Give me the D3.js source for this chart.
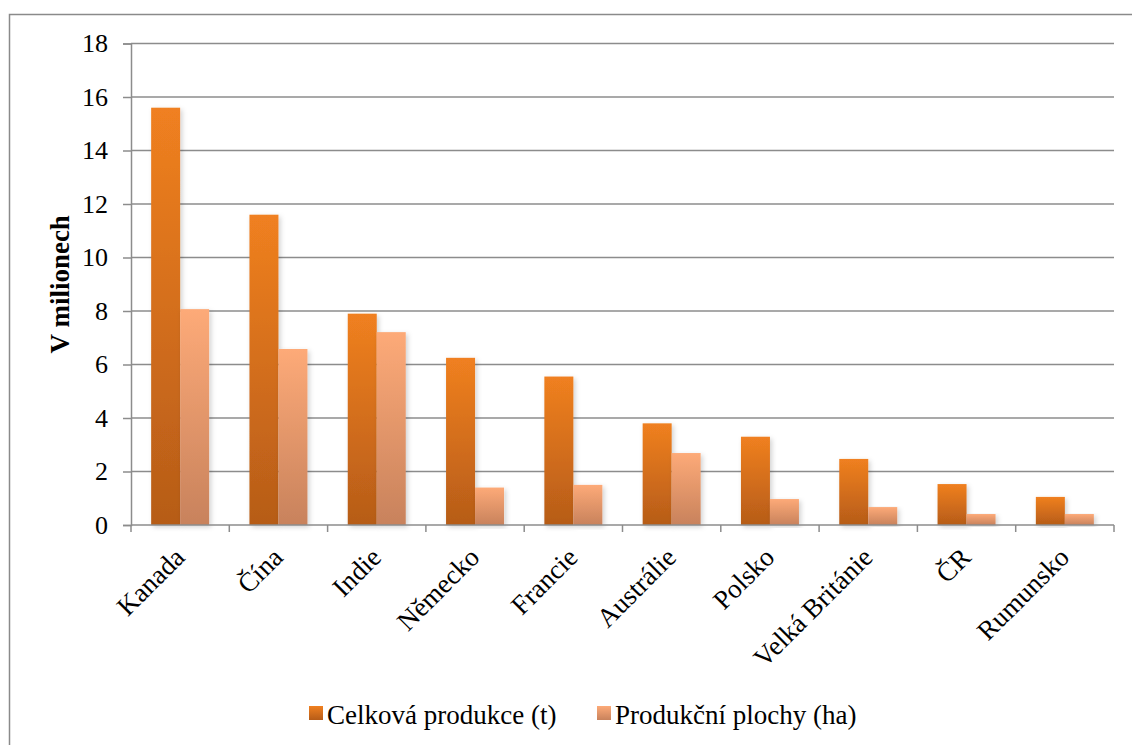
<!DOCTYPE html>
<html>
<head>
<meta charset="utf-8">
<script src="https://cdn.jsdelivr.net/npm/d3@7"></script>
<style>
  html, body { margin: 0; padding: 0; background: #fff; }
  svg { display: block; font-family: "Liberation Serif", "Times New Roman", serif; }
</style>
</head>
<body>
<svg id="chart" width="1132" height="745"></svg>
<script>
const categories = ["Kanada", "Čína", "Indie", "Německo", "Francie", "Austrálie", "Polsko", "Velká Británie", "ČR", "Rumunsko"];
const production = [15.6, 11.6, 7.9, 6.25, 5.55, 3.8, 3.3, 2.47, 1.53, 1.05];
const area = [8.07, 6.58, 7.21, 1.4, 1.5, 2.69, 0.97, 0.67, 0.41, 0.41];
const seriesNames = ["Celková produkce (t)", "Produkční plochy (ha)"];
const yTicks = [0, 2, 4, 6, 8, 10, 12, 14, 16, 18];
const yLabel = "V milionech";

const svg = d3.select("#chart");
const m = { left: 131, right: 1114, top: 43.5, bottom: 525 };

// outer frame
svg.append("rect").attr("x", 9.5).attr("y", 14.5).attr("width", 1140).attr("height", 760)
  .attr("fill", "#fff").attr("stroke", "#8a8a8a").attr("stroke-width", 1.5);

const defs = svg.append("defs");
const g1 = defs.append("linearGradient").attr("id", "gProd").attr("x1", 0).attr("y1", 0).attr("x2", 0).attr("y2", 1);
g1.append("stop").attr("offset", "0%").attr("stop-color", "#F08020");
g1.append("stop").attr("offset", "100%").attr("stop-color", "#B65C18");
const g2 = defs.append("linearGradient").attr("id", "gArea").attr("x1", 0).attr("y1", 0).attr("x2", 0).attr("y2", 1);
g2.append("stop").attr("offset", "0%").attr("stop-color", "#FDAA78");
g2.append("stop").attr("offset", "100%").attr("stop-color", "#C8825C");
const sh = defs.append("filter").attr("id", "shadow").attr("x", "-20%").attr("y", "-5%").attr("width", "150%").attr("height", "115%");
sh.append("feDropShadow").attr("dx", 2).attr("dy", 2).attr("stdDeviation", 2.5)
  .attr("flood-color", "#000").attr("flood-opacity", 0.18);

const x = d3.scaleBand().domain(categories).range([m.left, m.right]).paddingInner(0).paddingOuter(0);
const y = d3.scaleLinear().domain([0, 18]).range([m.bottom, m.top]);
const barW = x.bandwidth() * 0.295;

// gridlines
svg.append("g").selectAll("line").data(yTicks.filter(d => d > 0)).join("line")
  .attr("x1", m.left).attr("x2", m.right)
  .attr("y1", d => y(d)).attr("y2", d => y(d))
  .attr("stroke", "#8c8c8c").attr("stroke-width", 1.5);

// y axis
const yAxis = svg.append("g").attr("transform", `translate(${m.left},0)`)
  .call(d3.axisLeft(y).tickValues(yTicks).tickSize(8).tickPadding(15).tickFormat(d3.format("d")));
yAxis.select(".domain").attr("stroke", "#8c8c8c").attr("stroke-width", 1.5);
yAxis.selectAll(".tick line").attr("stroke", "#8c8c8c").attr("stroke-width", 1.5);
yAxis.selectAll(".tick text").attr("fill", "#000").style("font-size", "26px")
  .style("font-family", "'Liberation Serif', 'Times New Roman', serif");

// bars
const bars = svg.append("g");
categories.forEach((c, i) => {
  const cx = x(c) + x.bandwidth() / 2;
  bars.append("rect").attr("x", cx - barW).attr("width", barW)
    .attr("y", y(production[i])).attr("height", y(0) - y(production[i]))
    .attr("fill", "url(#gProd)").attr("filter", "url(#shadow)");
  bars.append("rect").attr("x", cx).attr("width", barW)
    .attr("y", y(area[i])).attr("height", y(0) - y(area[i]))
    .attr("fill", "url(#gArea)").attr("filter", "url(#shadow)");
});

// x axis
const xAxis = svg.append("g").attr("transform", `translate(0,${m.bottom})`);
xAxis.append("line").attr("x1", m.left).attr("x2", m.right).attr("y1", 0).attr("y2", 0)
  .attr("stroke", "#8c8c8c").attr("stroke-width", 1.5);
const xTickPos = categories.map(c => x(c)).concat([x(categories[categories.length - 1]) + x.bandwidth()]);
xAxis.selectAll("line.t").data(xTickPos).join("line").attr("class", "t")
  .attr("x1", d => d).attr("x2", d => d).attr("y1", 0).attr("y2", 7)
  .attr("stroke", "#8c8c8c").attr("stroke-width", 1.5);
xAxis.selectAll("text").data(categories).join("text")
  .attr("transform", d => `translate(${x(d) + x.bandwidth() / 2 + 6},${34}) rotate(-45)`)
  .attr("text-anchor", "end")
  .style("font-size", "27px").attr("fill", "#000")
  .text(d => d);

// y label
svg.append("text").attr("transform", `translate(69,${(m.top + m.bottom) / 2}) rotate(-90)`)
  .attr("text-anchor", "middle").style("font-size", "27px").style("font-weight", "bold")
  .text(yLabel);

// legend
const legend = svg.append("g");
const legItems = [
  { name: seriesNames[0], fill: "url(#gProd)", x: 309 },
  { name: seriesNames[1], fill: "url(#gArea)", x: 597 }
];
legItems.forEach(l => {
  legend.append("rect").attr("x", l.x).attr("y", 706).attr("width", 14).attr("height", 14).attr("fill", l.fill);
  legend.append("text").attr("x", l.x + 18).attr("y", 724).style("font-size", "27px").text(l.name);
});
</script>
</body>
</html>
